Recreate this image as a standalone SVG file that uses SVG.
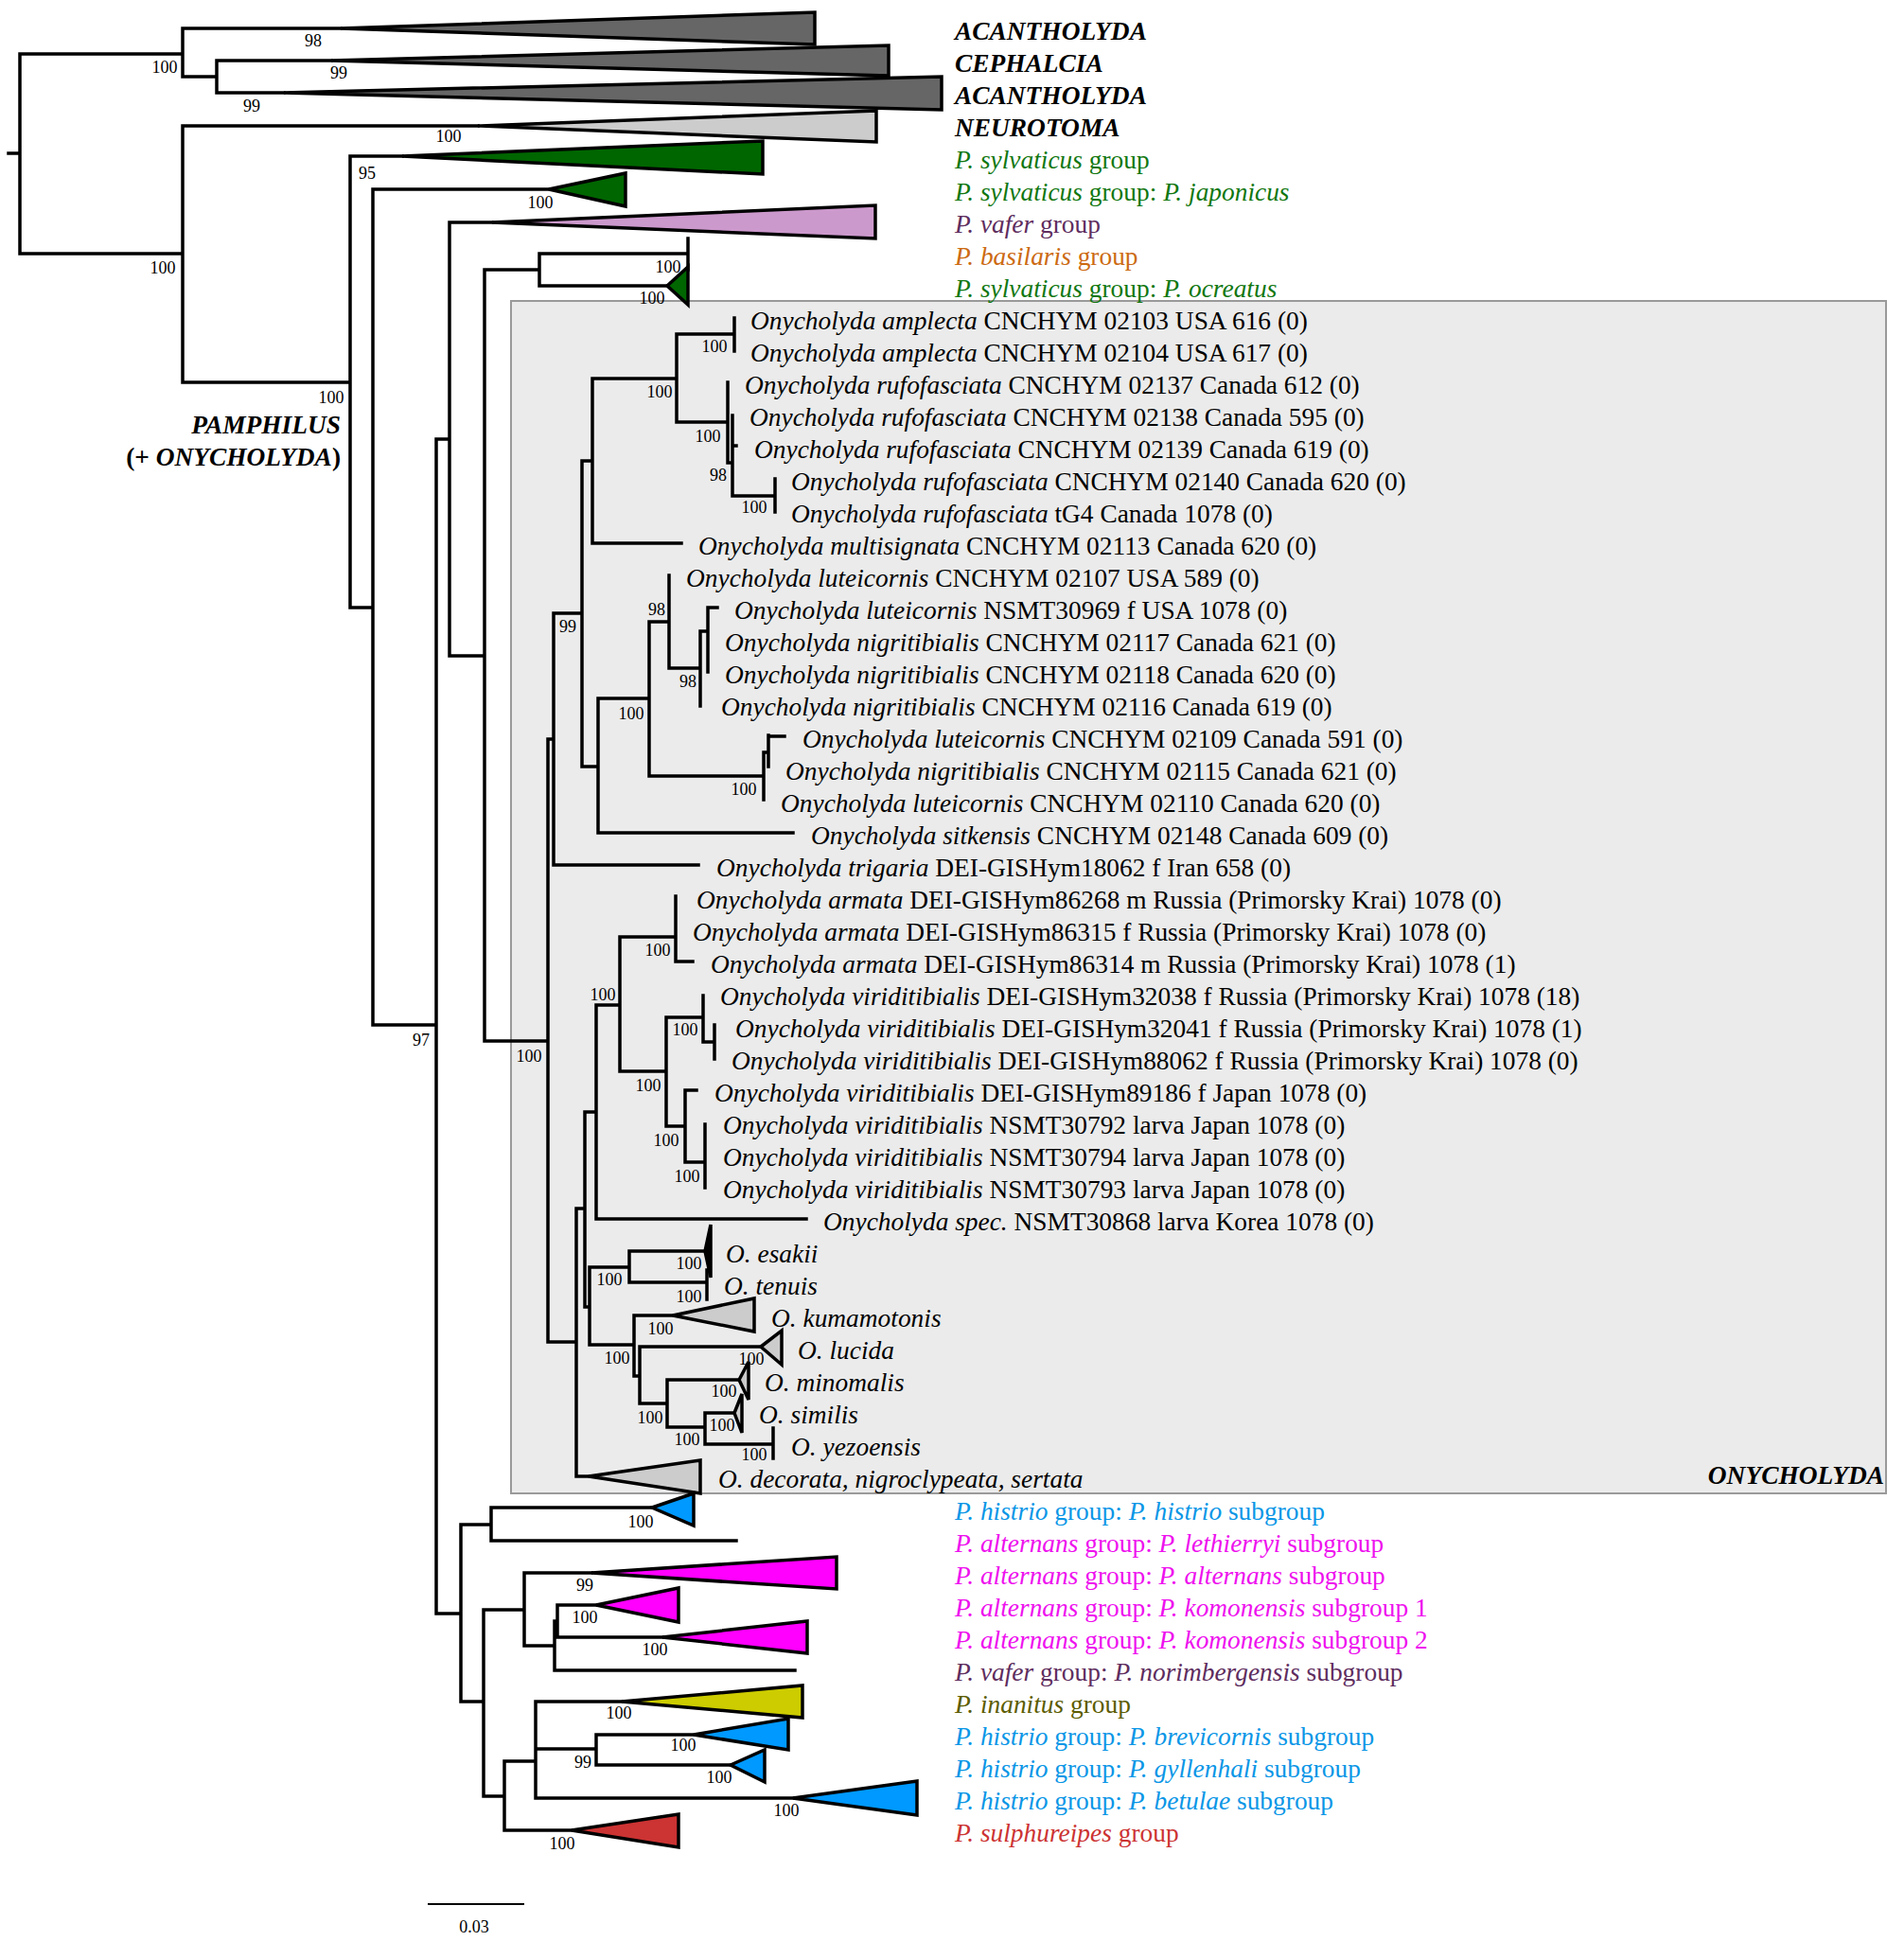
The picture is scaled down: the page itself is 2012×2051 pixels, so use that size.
<svg xmlns="http://www.w3.org/2000/svg" width="2012" height="2051" viewBox="0 0 2012 2051">
<style>
text{font-family:"Liberation Serif","Times New Roman",serif;}
.t{font-size:27.4px;fill:#000;}
.i{font-style:italic;}
.bi{font-style:italic;font-weight:bold;}
.b{font-weight:bold;}
.bs{font-size:18px;text-anchor:middle;fill:#000;}
.br{fill:none;stroke:#000;stroke-width:3.5;stroke-linecap:square;stroke-linejoin:miter;}
.tri{stroke:#000;stroke-width:3.5;stroke-linejoin:miter;}
.g{fill:#117711;} .pu{fill:#5e2d5e;} .or{fill:#cc6a12;} .bl{fill:#0a96e6;} .mg{fill:#ee11ee;} .ol{fill:#5c5c00;} .rd{fill:#cc3333;}
</style>
<rect id="onycholyda-box" x="540" y="318" width="1453" height="1260" fill="#ebebeb" stroke="#9a9a9a" stroke-width="2"/>
<g id="connectors">
<path class="br" d="M9 162H21M21 57V268M21 57H193M193 30V81M193 30H360M193 81H229M229 64V98M229 64H350M229 98H300M21 268H193M193 133V404M193 133H505M193 404H370M370 165V642M370 165H425M370 642H394M394 200V1083M394 200H580M394 1083H461M461 464V1705M461 464H475M475 235V693M475 235H520M475 693H512M512 285V1100M512 285H570M570 268V302M570 268H727M727 252V285M570 302H705M512 1100H579M579 781V1418M579 781H585M585 648V914M585 648H615M585 914H738M615 487V810M615 487H626M626 400V574M626 400H715M626 574H720M715 353V446M715 353H776M776 336V371M715 446H769M769 404V489M769 489H774M774 439V524M774 471H778M774 524H819M819 506V541M615 810H632M632 738V880M632 738H686M632 880H838M686 657V820M686 657H707M707 608V706M707 706H740M740 667V746M740 667H748M748 642V710M748 642H758M686 820H807M807 795V845M807 795H812M812 777V810M812 778H829M579 1418H609M609 1277V1560M609 1277H618M609 1560H622M618 1175V1381M618 1175H630M618 1381H623M630 1062V1288M630 1062H655M630 1288H852M655 990V1132M655 990H714M714 947V1016M714 1016H732M655 1132H704M704 1075V1190M704 1075H743M743 1052V1101M743 1101H755M755 1083V1119M704 1190H724M724 1152V1228M724 1152H736M724 1228H745M745 1188V1255M623 1339V1421M623 1339H665M665 1322V1355M665 1322H745M665 1355H747M747 1342V1373M623 1421H670M670 1390V1454M670 1390H711M670 1454H676M676 1423V1483M676 1423H804M676 1483H705M705 1458V1508M705 1458H781M705 1508H745M745 1493V1526M745 1493H776M745 1526H817M817 1509V1541M461 1705H487M487 1611V1798M487 1611H519M519 1593V1628M519 1593H689M519 1628H778M487 1798H511M511 1701V1898M511 1701H554M554 1662V1739M554 1662H625M554 1739H586M586 1713V1765M586 1713H589M589 1696V1730M589 1696H630M589 1730H700M586 1765H840M511 1898H533M533 1861V1934M533 1861H566M533 1934H604M566 1798V1900M566 1798H657M566 1848H630M630 1833V1865M630 1833H733M630 1865H772M566 1900H838"/>
</g>
<g id="clades">
<polygon id="c-acantholyda1" class="tri" fill="#666666" points="360,30 861,13 861,47"/>
<polygon id="c-cephalcia" class="tri" fill="#666666" points="350,64 939,48 939,80"/>
<polygon id="c-acantholyda2" class="tri" fill="#666666" points="300,98 995,81 995,116"/>
<polygon id="c-neurotoma" class="tri" fill="#cccccc" points="505,133 926,117 926,150"/>
<polygon id="c-sylvaticus" class="tri" fill="#006600" points="425,165 806,149 806,184"/>
<polygon id="c-japonicus" class="tri" fill="#006600" points="580,200 661,183 661,218"/>
<polygon id="c-vafer" class="tri" fill="#cc99cc" points="520,235 925,217 925,252"/>
<polygon id="c-ocreatus" class="tri" fill="#006600" points="705,302 727,282 727,322"/>
<polygon id="c-esakii" class="tri" fill="#000" stroke-width="2" points="745,1322 751,1294 751,1350"/>
<polygon id="c-kumamotonis" class="tri" fill="#cccccc" points="711,1390 797,1372 797,1407"/>
<polygon id="c-lucida" class="tri" fill="#cccccc" points="804,1423 826,1406 826,1442"/>
<polygon id="c-minomalis" class="tri" fill="#cccccc" points="781,1458 791,1439 791,1479"/>
<polygon id="c-similis" class="tri" fill="#cccccc" points="776,1493 784,1473 784,1514"/>
<polygon id="c-decorata" class="tri" fill="#cccccc" points="622,1560 740,1543 740,1578"/>
<polygon id="c-histrio" class="tri" fill="#0099ff" points="689,1593 733,1578 733,1612"/>
<polygon id="c-alternans" class="tri" fill="#ff00ff" points="625,1662 884,1645 884,1679"/>
<polygon id="c-komonensis1" class="tri" fill="#ff00ff" points="630,1696 717,1678 717,1714"/>
<polygon id="c-komonensis2" class="tri" fill="#ff00ff" points="700,1730 853,1713 853,1747"/>
<polygon id="c-inanitus" class="tri" fill="#cccc00" points="657,1798 848,1781 848,1815"/>
<polygon id="c-brevicornis" class="tri" fill="#0099ff" points="733,1833 833,1816 833,1849"/>
<polygon id="c-gyllenhali" class="tri" fill="#0099ff" points="772,1865 808,1849 808,1883"/>
<polygon id="c-betulae" class="tri" fill="#0099ff" points="838,1900 969,1882 969,1918"/>
<polygon id="c-sulphureipes" class="tri" fill="#cc3333" points="604,1934 717,1917 717,1952"/>
</g>
<g id="support">
<text class="bs" x="174" y="77">100</text>
<text class="bs" x="331" y="49">98</text>
<text class="bs" x="358" y="83">99</text>
<text class="bs" x="266" y="118">99</text>
<text class="bs" x="474" y="150">100</text>
<text class="bs" x="172" y="289">100</text>
<text class="bs" x="388" y="189">95</text>
<text class="bs" x="571" y="220">100</text>
<text class="bs" x="350" y="426">100</text>
<text class="bs" x="706" y="288">100</text>
<text class="bs" x="689" y="321">100</text>
<text class="bs" x="755" y="372">100</text>
<text class="bs" x="697" y="420">100</text>
<text class="bs" x="748" y="467">100</text>
<text class="bs" x="759" y="508">98</text>
<text class="bs" x="797" y="542">100</text>
<text class="bs" x="600" y="668">99</text>
<text class="bs" x="694" y="650">98</text>
<text class="bs" x="727" y="726">98</text>
<text class="bs" x="667" y="760">100</text>
<text class="bs" x="786" y="840">100</text>
<text class="bs" x="559" y="1122">100</text>
<text class="bs" x="445" y="1105">97</text>
<text class="bs" x="695" y="1010">100</text>
<text class="bs" x="637" y="1057">100</text>
<text class="bs" x="724" y="1094">100</text>
<text class="bs" x="685" y="1153">100</text>
<text class="bs" x="704" y="1211">100</text>
<text class="bs" x="726" y="1249">100</text>
<text class="bs" x="728" y="1341">100</text>
<text class="bs" x="728" y="1376">100</text>
<text class="bs" x="644" y="1358">100</text>
<text class="bs" x="698" y="1410">100</text>
<text class="bs" x="652" y="1441">100</text>
<text class="bs" x="794" y="1442">100</text>
<text class="bs" x="765" y="1476">100</text>
<text class="bs" x="687" y="1504">100</text>
<text class="bs" x="763" y="1512">100</text>
<text class="bs" x="726" y="1527">100</text>
<text class="bs" x="797" y="1543">100</text>
<text class="bs" x="677" y="1614">100</text>
<text class="bs" x="618" y="1681">99</text>
<text class="bs" x="618" y="1715">100</text>
<text class="bs" x="692" y="1749">100</text>
<text class="bs" x="654" y="1816">100</text>
<text class="bs" x="722" y="1850">100</text>
<text class="bs" x="616" y="1868">99</text>
<text class="bs" x="760" y="1884">100</text>
<text class="bs" x="831" y="1919">100</text>
<text class="bs" x="594" y="1954">100</text>
</g>
<g id="labels-top">
<text id="n-acantholyda1" class="t bi" x="1009" y="42">ACANTHOLYDA</text>
<text id="n-cephalcia" class="t bi" x="1009" y="76">CEPHALCIA</text>
<text id="n-acantholyda2" class="t bi" x="1009" y="110">ACANTHOLYDA</text>
<text id="n-neurotoma" class="t bi" x="1009" y="144">NEUROTOMA</text>
<text id="n-sylvaticus" class="t g" x="1009" y="178"><tspan class="i">P. sylvaticus</tspan> group</text>
<text id="n-japonicus" class="t g" x="1009" y="212"><tspan class="i">P. sylvaticus</tspan> group: <tspan class="i">P. japonicus</tspan></text>
<text id="n-vafer" class="t pu" x="1009" y="246"><tspan class="i">P. vafer</tspan> group</text>
<text id="n-basilaris" class="t or" x="1009" y="280"><tspan class="i">P. basilaris</tspan> group</text>
<text id="n-ocreatus" class="t g" x="1009" y="314"><tspan class="i">P. sylvaticus</tspan> group: <tspan class="i">P. ocreatus</tspan></text>
</g>
<g id="labels-onycholyda" class="t">
<text x="793" y="348"><tspan class="i">Onycholyda amplecta</tspan> CNCHYM 02103 USA 616 (0)</text>
<text x="793" y="382"><tspan class="i">Onycholyda amplecta</tspan> CNCHYM 02104 USA 617 (0)</text>
<text x="787" y="416"><tspan class="i">Onycholyda rufofasciata</tspan> CNCHYM 02137 Canada 612 (0)</text>
<text x="792" y="450"><tspan class="i">Onycholyda rufofasciata</tspan> CNCHYM 02138 Canada 595 (0)</text>
<text x="797" y="484"><tspan class="i">Onycholyda rufofasciata</tspan> CNCHYM 02139 Canada 619 (0)</text>
<text x="836" y="518"><tspan class="i">Onycholyda rufofasciata</tspan> CNCHYM 02140 Canada 620 (0)</text>
<text x="836" y="552"><tspan class="i">Onycholyda rufofasciata</tspan> tG4 Canada 1078 (0)</text>
<text x="738" y="586"><tspan class="i">Onycholyda multisignata</tspan> CNCHYM 02113 Canada 620 (0)</text>
<text x="725" y="620"><tspan class="i">Onycholyda luteicornis</tspan> CNCHYM 02107 USA 589 (0)</text>
<text x="776" y="654"><tspan class="i">Onycholyda luteicornis</tspan> NSMT30969 f USA 1078 (0)</text>
<text x="766" y="688"><tspan class="i">Onycholyda nigritibialis</tspan> CNCHYM 02117 Canada 621 (0)</text>
<text x="766" y="722"><tspan class="i">Onycholyda nigritibialis</tspan> CNCHYM 02118 Canada 620 (0)</text>
<text x="762" y="756"><tspan class="i">Onycholyda nigritibialis</tspan> CNCHYM 02116 Canada 619 (0)</text>
<text x="848" y="790"><tspan class="i">Onycholyda luteicornis</tspan> CNCHYM 02109 Canada 591 (0)</text>
<text x="830" y="824"><tspan class="i">Onycholyda nigritibialis</tspan> CNCHYM 02115 Canada 621 (0)</text>
<text x="825" y="858"><tspan class="i">Onycholyda luteicornis</tspan> CNCHYM 02110 Canada 620 (0)</text>
<text x="857" y="892"><tspan class="i">Onycholyda sitkensis</tspan> CNCHYM 02148 Canada 609 (0)</text>
<text x="757" y="926"><tspan class="i">Onycholyda trigaria</tspan> DEI-GISHym18062 f Iran 658 (0)</text>
<text x="736" y="960"><tspan class="i">Onycholyda armata</tspan> DEI-GISHym86268 m Russia (Primorsky Krai) 1078 (0)</text>
<text x="732" y="994"><tspan class="i">Onycholyda armata</tspan> DEI-GISHym86315 f Russia (Primorsky Krai) 1078 (0)</text>
<text x="751" y="1028"><tspan class="i">Onycholyda armata</tspan> DEI-GISHym86314 m Russia (Primorsky Krai) 1078 (1)</text>
<text x="761" y="1062"><tspan class="i">Onycholyda viriditibialis</tspan> DEI-GISHym32038 f Russia (Primorsky Krai) 1078 (18)</text>
<text x="777" y="1096"><tspan class="i">Onycholyda viriditibialis</tspan> DEI-GISHym32041 f Russia (Primorsky Krai) 1078 (1)</text>
<text x="773" y="1130"><tspan class="i">Onycholyda viriditibialis</tspan> DEI-GISHym88062 f Russia (Primorsky Krai) 1078 (0)</text>
<text x="755" y="1164"><tspan class="i">Onycholyda viriditibialis</tspan> DEI-GISHym89186 f Japan 1078 (0)</text>
<text x="764" y="1198"><tspan class="i">Onycholyda viriditibialis</tspan> NSMT30792 larva Japan 1078 (0)</text>
<text x="764" y="1232"><tspan class="i">Onycholyda viriditibialis</tspan> NSMT30794 larva Japan 1078 (0)</text>
<text x="764" y="1266"><tspan class="i">Onycholyda viriditibialis</tspan> NSMT30793 larva Japan 1078 (0)</text>
<text x="870" y="1300"><tspan class="i">Onycholyda spec.</tspan> NSMT30868 larva Korea 1078 (0)</text>
<text class="i" x="767" y="1334">O. esakii</text>
<text class="i" x="765" y="1368">O. tenuis</text>
<text class="i" x="815" y="1402">O. kumamotonis</text>
<text class="i" x="843" y="1436">O. lucida</text>
<text class="i" x="808" y="1470">O. minomalis</text>
<text class="i" x="802" y="1504">O. similis</text>
<text class="i" x="836" y="1538">O. yezoensis</text>
<text class="i" x="759" y="1572">O. decorata, nigroclypeata, sertata</text>
</g>
<g id="labels-bottom">
<text class="t bl" x="1009" y="1606"><tspan class="i">P. histrio</tspan> group: <tspan class="i">P. histrio</tspan> subgroup</text>
<text class="t mg" x="1009" y="1640"><tspan class="i">P. alternans</tspan> group: <tspan class="i">P. lethierryi</tspan> subgroup</text>
<text class="t mg" x="1009" y="1674"><tspan class="i">P. alternans</tspan> group: <tspan class="i">P. alternans</tspan> subgroup</text>
<text class="t mg" x="1009" y="1708"><tspan class="i">P. alternans</tspan> group: <tspan class="i">P. komonensis</tspan> subgroup 1</text>
<text class="t mg" x="1009" y="1742"><tspan class="i">P. alternans</tspan> group: <tspan class="i">P. komonensis</tspan> subgroup 2</text>
<text class="t pu" x="1009" y="1776"><tspan class="i">P. vafer</tspan> group: <tspan class="i">P. norimbergensis</tspan> subgroup</text>
<text class="t ol" x="1009" y="1810"><tspan class="i">P. inanitus</tspan> group</text>
<text class="t bl" x="1009" y="1844"><tspan class="i">P. histrio</tspan> group: <tspan class="i">P. brevicornis</tspan> subgroup</text>
<text class="t bl" x="1009" y="1878"><tspan class="i">P. histrio</tspan> group: <tspan class="i">P. gyllenhali</tspan> subgroup</text>
<text class="t bl" x="1009" y="1912"><tspan class="i">P. histrio</tspan> group: <tspan class="i">P. betulae</tspan> subgroup</text>
<text class="t rd" x="1009" y="1946"><tspan class="i">P. sulphureipes</tspan> group</text>
</g>
<g id="group-labels">
<text class="t" x="360" y="458" text-anchor="end"><tspan class="bi">PAMPHILUS</tspan></text>
<text class="t" x="360" y="492" text-anchor="end"><tspan class="b">(+ </tspan><tspan class="bi">ONYCHOLYDA</tspan><tspan class="b">)</tspan></text>
<text class="t bi" x="1991" y="1568" text-anchor="end">ONYCHOLYDA</text>
</g>
<g id="scale">
<path d="M452 2012H554" stroke="#000" stroke-width="2"/>
<text class="bs" x="501" y="2042">0.03</text>
</g>
</svg>
